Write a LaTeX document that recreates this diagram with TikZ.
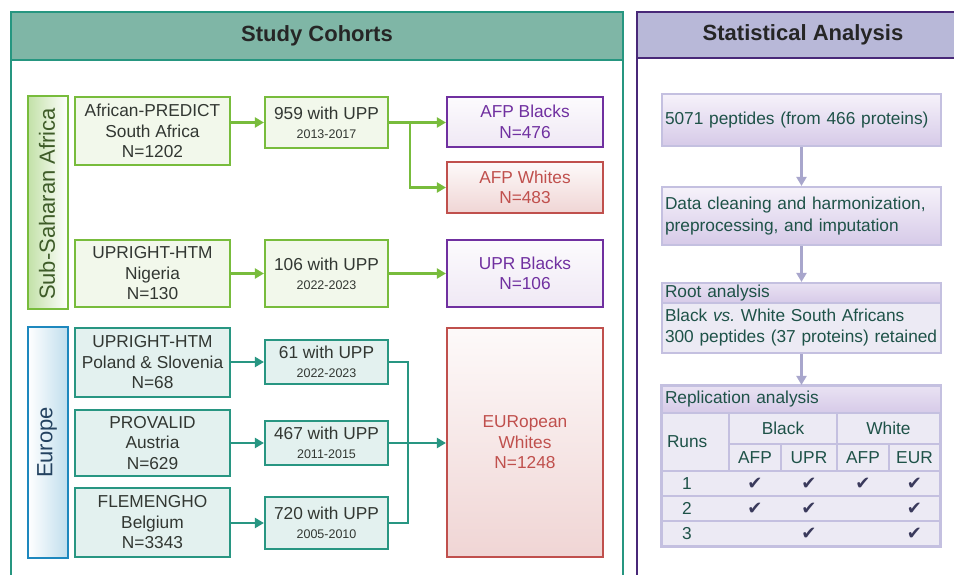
\documentclass[tikz,border=0pt]{standalone}
\usepackage{fontspec}
\setmainfont{Liberation Sans}
\newfontfamily\checkfont{DejaVu Sans}
\usepackage{tikz}
\usetikzlibrary{arrows.meta,positioning,calc,shapes.geometric}
\definecolor{panelteal}{RGB}{38,150,128}
\definecolor{headteal}{RGB}{127,182,166}
\definecolor{panelpurple}{RGB}{72,40,120}
\definecolor{headlav}{RGB}{184,184,216}
\definecolor{leafgreen}{RGB}{120,188,60}
\definecolor{seateal}{RGB}{40,150,130}
\definecolor{oceanblue}{RGB}{30,136,190}
\definecolor{royalpurple}{RGB}{112,48,160}
\definecolor{brickred}{RGB}{192,80,77}
\definecolor{darktext}{RGB}{50,55,50}
\definecolor{tealtext}{RGB}{30,82,72}
\definecolor{lavline}{RGB}{196,192,224}
\definecolor{lavtop}{RGB}{246,242,250}
\definecolor{lavbot}{RGB}{214,202,232}
\definecolor{cellfill}{RGB}{236,234,244}
\definecolor{connlav}{RGB}{168,166,204}
\definecolor{checknavy}{RGB}{58,58,92}
\definecolor{ssatext}{RGB}{62,92,40}
\definecolor{eurtext}{RGB}{36,66,96}
\newcommand{\studyyrs}[1]{{\fontsize{12.5}{14}\selectfont #1}}
\tikzset{
  base/.style={font=\fontsize{17.3}{20.5}\selectfont, align=center, inner sep=0pt, text=darktext},
  box/.style={base, rectangle, line width=2.2pt},
  cohgreen/.style={box, draw=leafgreen, fill=leafgreen!10},
  cohteal/.style={box, draw=seateal, fill=seateal!13},
  grpblack/.style={box, draw=royalpurple, top color=royalpurple!2, bottom color=royalpurple!11, text=royalpurple},
  grpwhite/.style={box, draw=brickred, top color=brickred!3, bottom color=brickred!24, text=brickred},
  panelhead/.style={base, font=\bfseries\fontsize{22}{26}\selectfont, text=black!85, line width=2.5pt},
  regionlbl/.style={base, font=\fontsize{22}{26}\selectfont, rotate=90},
  anabox/.style={base, font=\fontsize{17.3}{22.5}\selectfont, rectangle, draw=lavline, line width=2.2pt, top color=lavtop, bottom color=lavbot, text=tealtext, align=left, text width=273pt, inner xsep=3pt},
  anahead/.style={anabox, top color=lavtop!60!lavbot, bottom color=lavbot},
  anabody/.style={anabox, top color=cellfill, bottom color=cellfill},
  cell/.style={base, rectangle, draw=lavline, fill=cellfill, line width=1.5pt, text=tealtext},
  chk/.style={font=\checkfont\fontsize{18}{18}\selectfont, text=checknavy, inner sep=0pt},
  garr/.style={-{Triangle[length=9pt,width=10pt]}, line width=2.4pt, draw=leafgreen},
  tline/.style={line width=2.4pt, draw=seateal},
  tarr/.style={tline, -{Triangle[length=9pt,width=10pt]}},
  larr/.style={-{Triangle[length=9pt,width=10pt]}, line width=2.6pt, draw=connlav},
}
\begin{document}
\begin{tikzpicture}[x=1pt, y=-1pt]
  \useasboundingbox (0,0) rectangle (954,575);
  \clip (0,0) rectangle (954,575);
  \fill[white] (0,0) rectangle (954,575);
  % panels
  \draw[line width=2.5pt, draw=panelteal] (11,12) rectangle (623,620);
  \node[panelhead, draw=panelteal, fill=headteal, minimum width=612pt, minimum height=48pt] (cohhead) at (317,36) {Study Cohorts};
  \draw[line width=2.5pt, draw=panelpurple] (637,12) rectangle (969,620);
  \node[panelhead, draw=panelpurple, fill=headlav, minimum width=332pt, minimum height=46pt] (anahead) at (803,35) {Statistical Analysis};
  % regions
  \draw[line width=2.6pt, draw=leafgreen, left color=leafgreen!45, right color=white] (28,96) rectangle (68,309);
  \node[regionlbl, text=ssatext] (ssa) at (47,204) {Sub-Saharan Africa};
  \draw[line width=2.6pt, draw=oceanblue, left color=white, right color=oceanblue!28] (28,327) rectangle (68,558);
  \node[regionlbl, text=eurtext] (eur) at (47,442.5) {Europe};
  % cohorts
  \foreach \n/\s/\y/\h/\t in {af/cohgreen/131/68/{African-PREDICT\\South Africa\\N=1202},
                              ng/cohgreen/273.5/67/{UPRIGHT-HTM\\Nigeria\\N=130},
                              pl/cohteal/362.5/69/{UPRIGHT-HTM\\Poland \& Slovenia\\N=68},
                              at/cohteal/443/66/{PROVALID\\Austria\\N=629},
                              be/cohteal/522.5/69/{FLEMENGHO\\Belgium\\N=3343}}{
    \node[\s, minimum width=155pt, minimum height=\h pt] (\n) at (152.5,\y) {\t};
  }
  \foreach \n/\s/\y/\h/\k/\d in {u1/cohgreen/122.5/51/959/2013-2017,
                                 u2/cohgreen/273.5/67/106/2022-2023,
                                 u3/cohteal/362/44/61/2022-2023,
                                 u4/cohteal/443/44/467/2011-2015,
                                 u5/cohteal/523/52/720/2005-2010}{
    \node[\s, minimum width=123pt, minimum height=\h pt] (\n) at (326.5,\y) {\k{} with UPP\\[-1.5pt]\studyyrs{\d}};
  }
  \node[grpblack, minimum width=156pt, minimum height=50pt] (rb1) at (525,122) {AFP Blacks\\N=476};
  \node[grpwhite, minimum width=156pt, minimum height=51pt] (rw1) at (525,187.5) {AFP Whites\\N=483};
  \node[grpblack, minimum width=156pt, minimum height=67pt] (rb2) at (525,273.5) {UPR Blacks\\N=106};
  \node[grpwhite, minimum width=156pt, minimum height=229pt] (rw2) at (525,442.5) {EURopean\\Whites\\N=1248};
  \foreach \a/\b in {af/u1, ng/u2}{\draw[garr] (\a.east |- \b) -- (\b.west);}
  \draw[garr] (u1.east) -- (u1.east -| rb1.west);
  \coordinate (sp1) at (410,122.5);
  \draw[garr] (sp1) |- (rw1.west);
  \draw[garr] (u2.east) -- (u2.east -| rb2.west);
  \foreach \a/\b in {pl/u3, at/u4, be/u5}{\draw[tarr] (\a.east |- \b) -- (\b.west);}
  \coordinate (jn) at (408,443);
  \draw[tline] (u3.east) -| (jn) |- (u5.east);
  \draw[tarr] (u4.east) -- (u4.east -| rw2.west);
  % analysis
  \node[anabox, minimum height=52pt] (p1) at (801.5,120) {5071 peptides (from 466 proteins)};
  \node[anabox, minimum height=58pt] (p2) at (801.5,216) {Data cleaning and harmonization,\\preprocessing, and imputation};
  \node[anahead, minimum height=20pt] (p3h) at (801.5,293) {Root analysis};
  \node[anabody, font=\fontsize{17.3}{21}\selectfont, minimum height=50pt] (p3) at (801.5,328) {Black \textit{vs.}\ White South Africans\\\mbox{300 peptides (37 proteins) retained}};
  \node[anahead, minimum height=27pt] (p4h) at (801.5,399.5) {Replication analysis};
  \node[cell, text width=57pt, inner xsep=5pt, align=left, minimum height=58pt] (runs) at (695.5,442) {Runs};
  \node[cell, minimum width=108pt, minimum height=31pt] (blk) at (783,428.5) {Black};
  \node[cell, minimum width=103pt, minimum height=31pt] (wht) at (888.5,428.5) {White};
  \foreach \n/\x/\w/\t in {c1/755/52/AFP, c2/809/56/UPR, c3/863/52/AFP, c4/914.5/51/EUR}{
    \node[cell, minimum width=\w pt, minimum height=27pt] (\n) at (\x,457.5) {\t};
  }
  \foreach \r/\y/\cols in {1/483.5/{1/755,2/809,3/863,4/914.5}, 2/508.5/{1/755,2/809,4/914.5}, 3/533.5/{2/809,4/914.5}}{
    \node[cell, minimum width=278pt, minimum height=25pt] (row\r) at (801,\y) {};
    \node[base, text=tealtext] (n\r) at (687,\y) {\r};
    \foreach \c/\cx in \cols {\node[chk] (k\r\c) at (\cx,\y) {✔};}
  }
  \draw[line width=2.2pt, draw=lavline] (p4h.north west) rectangle (row3.south east);
  \foreach \a/\b in {p1/p2, p2/p3h, p3/p4h}{\draw[larr] (\a.south) -- (\b.north);}
\end{tikzpicture}
\end{document}
